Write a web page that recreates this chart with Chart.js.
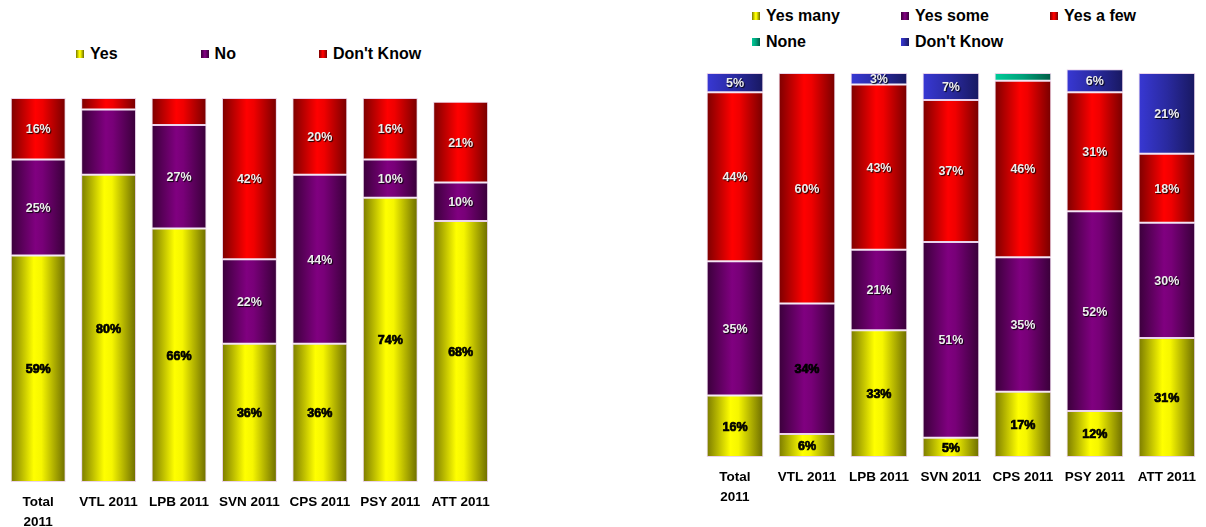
<!DOCTYPE html>
<html>
<head>
<meta charset="utf-8">
<script src="https://cdn.jsdelivr.net/npm/chart.js@4.4.1/dist/chart.umd.min.js"></script>
<style>
  html, body { margin: 0; padding: 0; background: #fff; }
  body { width: 1206px; height: 527px; position: relative; overflow: hidden;
         font-family: "Liberation Sans", Arial, sans-serif; }
  canvas { position: absolute; top: 0; }
  #leftChart { left: 0; }
  #rightChart { left: 696px; }
  .legend { position: absolute; font-weight: bold; font-size: 16px; color: #000; }
  .legend .item { display: flex; align-items: center; white-space: nowrap; height: 20px; }
  .legend .box { width: 8px; height: 8px; margin-right: 6px; }
  #leftLegend { left: 76px; top: 44px; display: flex; gap: 83px; }
  #rightLegend { left: 752px; top: 6px; display: grid; grid-template-columns: 149px 149px 149px; row-gap: 6px; }
</style>
</head>
<body>
<div id="leftLegend" class="legend"></div>
<div id="rightLegend" class="legend"></div>
<canvas id="leftChart" width="500" height="527"></canvas>
<canvas id="rightChart" width="510" height="527"></canvas>
<script>
// Categories shared by both charts
const categories = [['Total', '2011'], 'VTL 2011', 'LPB 2011', 'SVN 2011', 'CPS 2011', 'PSY 2011', 'ATT 2011'];

// Left chart: Yes / No / Don't Know (%)
const leftSeries = ['Yes', 'No', "Don't Know"];
const leftYes = [59, 80, 66, 36, 36, 74, 68];
const leftNo = [25, 17, 27, 22, 44, 10, 10];
const leftDontKnow = [16, 3, 7, 42, 20, 16, 21];

// Right chart: how many (%)
const rightSeries = ['Yes many', 'Yes some', 'Yes a few', 'None', "Don't Know"];
const rightYesMany = [16, 6, 33, 5, 17, 12, 31];
const rightYesSome = [35, 34, 21, 51, 35, 52, 30];
const rightYesFew = [44, 60, 43, 37, 46, 31, 18];
const rightNone = [0, 0, 0, 0, 2, 0, 0];
const rightDontKnow = [5, 0, 3, 7, 0, 6, 21];

// segments without a printed value ("dataset:index")
const leftUnlabeled = ['1:1', '2:1', '2:2'];
const rightUnlabeled = ['3:4'];

const FONT = '"Liberation Sans", Arial, sans-serif';

// horizontal shading for each bar colour
const shades = {
  yellow: [[0, '#7a7a00'], [0.42, '#ffff00'], [0.56, '#f6f600'], [1, '#6c6c00']],
  purple: [[0, '#3a003a'], [0.45, '#800080'], [0.58, '#780078'], [1, '#380038']],
  red:    [[0, '#7c0000'], [0.45, '#ff0000'], [0.58, '#f00000'], [1, '#760000']],
  teal:   [[0, '#00cc99'], [0.5, '#00a07a'], [1, '#005c45']],
  blue:   [[0, '#3838d4'], [0.5, '#2a2aa0'], [1, '#181860']]
};

function cssGradient(stops) {
  return 'linear-gradient(to right, ' + stops.map(s => s[1] + ' ' + (s[0] * 100) + '%').join(', ') + ')';
}

function barFill(stops, barPct) {
  return (ctx) => {
    const chart = ctx.chart;
    const x = chart.scales && chart.scales.x;
    if (!x || ctx.dataIndex === undefined) return stops[1][1];
    const center = x.getPixelForValue(ctx.dataIndex);
    const half = (x.width / categories.length) * barPct / 2;
    if (!isFinite(center) || !isFinite(half) || half <= 0) return stops[1][1];
    const g = chart.ctx.createLinearGradient(center - half, 0, center + half, 0);
    stops.forEach(s => g.addColorStop(s[0], s[1]));
    return g;
  };
}

// Draw percentages in the middle of each stacked segment
function segmentLabels(unlabeled, darkPoints) {
  return {
    id: 'segmentLabels',
    afterDatasetsDraw(chart) {
      const ctx = chart.ctx;
      ctx.save();
      ctx.textAlign = 'center';
      ctx.textBaseline = 'middle';
      chart.data.datasets.forEach((ds, di) => {
        const meta = chart.getDatasetMeta(di);
        meta.data.forEach((bar, i) => {
          const v = ds.data[i];
          const key = di + ':' + i;
          if (!v || unlabeled.includes(key)) return;
          const dark = ds.darkLabels || darkPoints.includes(key);
          const text = v + '%';
          const y = (bar.y + bar.base) / 2 + 1;
          ctx.font = 'bold 12.5px ' + FONT;
          if (dark) {
            ctx.fillStyle = '#000';
            ctx.strokeStyle = '#000';
            ctx.lineWidth = 0.7;
            ctx.strokeText(text, bar.x, y);
            ctx.fillText(text, bar.x, y);
          } else {
            ctx.shadowColor = 'rgba(0,0,0,0.9)';
            ctx.shadowOffsetX = 1;
            ctx.shadowOffsetY = 1;
            ctx.shadowBlur = 1;
            ctx.fillStyle = '#eeeeee';
            ctx.fillText(text, bar.x, y);
            ctx.shadowColor = 'transparent';
          }
        });
      });
      ctx.restore();
    }
  };
}

function stackedChart(el, series, values, colours, darkSeries, opts) {
  const datasets = series.map((name, k) => ({
    label: name,
    data: values[k],
    backgroundColor: barFill(shades[colours[k]], opts.barPct),
    borderColor: 'rgba(215,170,215,0.5)',
    borderWidth: 1,
    borderSkipped: false,
    barPercentage: opts.barPct,
    categoryPercentage: 1,
    clip: false,
    darkLabels: darkSeries.includes(k)
  }));
  return new Chart(el, {
    type: 'bar',
    data: { labels: categories, datasets },
    options: {
      responsive: false,
      animation: false,
      layout: { padding: opts.padding },
      plugins: { legend: { display: false }, tooltip: { enabled: false } },
      scales: {
        x: {
          stacked: true,
          grid: { display: false, drawTicks: false },
          border: { display: false },
          ticks: { color: '#000', padding: 10, maxRotation: 0, autoSkip: false,
                   font: { family: FONT, size: 13.5, weight: 'bold', lineHeight: 1.5 } },
          afterFit: (scale) => { scale.height = opts.axisHeight; }
        },
        y: { stacked: true, display: false, min: 0, max: 100 }
      }
    },
    plugins: [segmentLabels(opts.unlabeled, opts.dark)]
  });
}

function buildLegend(el, series, colours) {
  series.forEach((name, k) => {
    const item = document.createElement('div');
    item.className = 'item';
    const box = document.createElement('span');
    box.className = 'box';
    box.style.background = cssGradient(shades[colours[k]]);
    const label = document.createElement('span');
    label.textContent = name;
    item.append(box, label);
    el.appendChild(item);
  });
}

const leftColours = ['yellow', 'purple', 'red'];
const rightColours = ['yellow', 'purple', 'red', 'teal', 'blue'];

buildLegend(document.getElementById('leftLegend'), leftSeries, leftColours);
buildLegend(document.getElementById('rightLegend'), rightSeries, rightColours);

stackedChart(document.getElementById('leftChart'), leftSeries,
  [leftYes, leftNo, leftDontKnow], leftColours, [0],
  { barPct: 0.78, padding: { left: 3, right: 3, top: 98, bottom: 0 }, axisHeight: 45,
    unlabeled: leftUnlabeled, dark: [] });

stackedChart(document.getElementById('rightChart'), rightSeries,
  [rightYesMany, rightYesSome, rightYesFew, rightNone, rightDontKnow], rightColours, [0],
  { barPct: 0.787, padding: { left: 3, right: 0, top: 73, bottom: 0 }, axisHeight: 70,
    unlabeled: rightUnlabeled, dark: ['1:1'] });
</script>
</body>
</html>
